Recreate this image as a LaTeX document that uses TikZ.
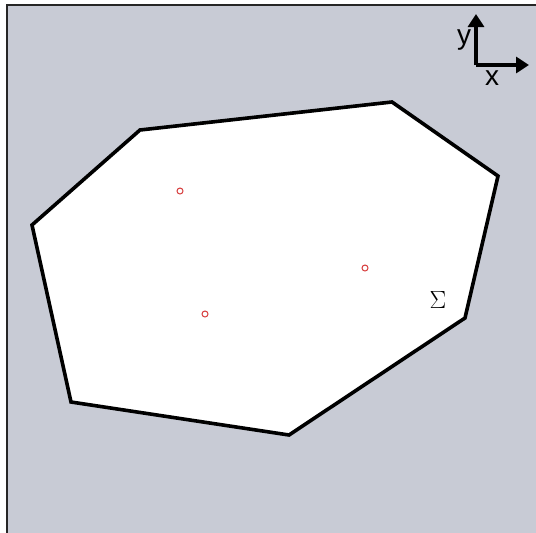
\documentclass[tikz,border=0pt]{standalone}
\usepackage{fontspec}
\newfontfamily\axfont{Liberation Sans}
\usetikzlibrary{arrows.meta}
\definecolor{bg}{RGB}{200,203,213}
\definecolor{pt}{RGB}{215,60,60}
\tikzset{
  region/.style={draw=black, line width=3.6pt, fill=white, line join=miter},
  sample/.style={circle, draw=pt, line width=1pt, inner sep=0pt, minimum size=6pt, fill=white},
  axis/.style={line width=3.6pt, -{Triangle[length=13pt,width=16pt]}},
  axlabel/.style={font=\axfont\fontsize{28}{28}\selectfont, inner sep=0pt}
}
\begin{document}
\begin{tikzpicture}[x=1pt,y=-1pt]
\useasboundingbox (0,0) rectangle (536,533);
\fill[bg] (7,5) rectangle (536,533);
\draw[line width=2pt, black!85] (7,533) -- (7,5) -- (536,5);
\coordinate (v1) at (140,130);
\coordinate (v2) at (392,102);
\coordinate (v3) at (498,176);
\coordinate (v4) at (465,318);
\coordinate (v5) at (289,435);
\coordinate (v6) at (71,402);
\coordinate (v7) at (32,225);
\draw[region] (v1) -- (v2) -- (v3) -- (v4) -- (v5) -- (v6) -- (v7) -- cycle;
\node[sample] (p1) at (180,191) {};
\node[sample] (p2) at (365,268) {};
\node[sample] (p3) at (205,314) {};
\node[font=\fontsize{23}{23}\selectfont] (sig) at (438,300) {$\Sigma$};
\coordinate (o) at (476,65);
\coordinate (xe) at (529,65);
\coordinate (ye) at (476,14);
\draw[axis] (o) -- (xe);
\draw[axis] (o) -- (ye);
\node[axlabel] (ly) at (464,40) {y};
\node[axlabel] (lx) at (492,78) {x};
\end{tikzpicture}
\end{document}
